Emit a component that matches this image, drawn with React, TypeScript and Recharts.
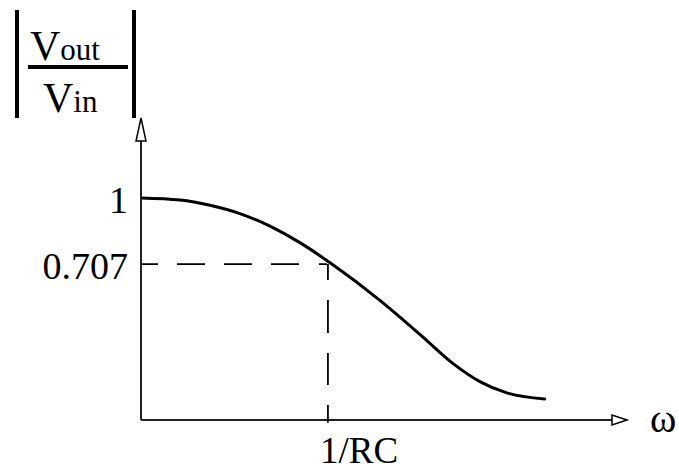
import { LineChart, Line, XAxis, YAxis, ReferenceLine, ReferenceDot } from "recharts";

// normalised frequency (units of 1/RC) and |Vout/Vin|
const omega = [0, 0.209, 0.369, 0.529, 0.69, 0.85, 1.021, 1.278, 1.492, 1.668, 1.813, 1.957, 2.16];
const gain = [1.0, 0.991, 0.968, 0.931, 0.875, 0.802, 0.707, 0.546, 0.395, 0.266, 0.185, 0.135, 0.108];

const yTicks = [0.707, 1];
const yTickLabels = ["0.707", "1"];
const xTicks = [1];
const xTickLabels = ["1/RC"];

const cutoffW = 1;
const cutoffGain = 0.707;
const yMin = 0.0147;
const yMax = 1.342;
const xMax = 2.6;

const data = omega.map((w, i) => ({ w, g: gain[i] }));

const FONT = '"Liberation Serif", "Times New Roman", serif';

const YTick = (props: any) => {
  const { x, y, payload } = props;
  const i = yTicks.indexOf(payload.value);
  return (
    <text x={x} y={y + 15} textAnchor="end" fontFamily={FONT} fontSize={38} fill="#000">
      {yTickLabels[i]}
    </text>
  );
};

const XTick = (props: any) => {
  const { x, y, payload } = props;
  const i = xTicks.indexOf(payload.value);
  return (
    <text x={x - 8} y={y + 40} textAnchor="start" fontFamily={FONT} fontSize={37} fill="#000">
      {xTickLabels[i]}
    </text>
  );
};

const UpArrow = (props: any) => {
  const { cx, cy } = props;
  return (
    <polygon
      points={`${cx},${cy - 3} ${cx - 5},${cy + 20} ${cx + 5},${cy + 20}`}
      fill="#fff"
      stroke="#000"
      strokeWidth={1.5}
    />
  );
};

const RightArrow = (props: any) => {
  const { cx, cy } = props;
  return (
    <g>
      <polygon
        points={`${cx},${cy} ${cx - 15},${cy - 5} ${cx - 15},${cy + 5}`}
        fill="#fff"
        stroke="#000"
        strokeWidth={1.5}
      />
      <text x={cx + 23} y={cy + 12} fontFamily={FONT} fontSize={40} fill="#000">
        ω
      </text>
    </g>
  );
};

function Title() {
  return (
    <svg
      width={150}
      height={125}
      style={{ position: "absolute", left: 0, top: 0 }}
    >
      <rect x={15} y={10} width={4} height={108} fill="#000" />
      <rect x={132} y={10} width={4} height={108} fill="#000" />
      <rect x={28} y={65} width={100} height={4} fill="#000" />
      <text x={30} y={60} fontFamily={FONT} fill="#000">
        <tspan fontSize={42}>V</tspan>
        <tspan fontSize={31}>out</tspan>
      </text>
      <text x={43} y={112} fontFamily={FONT} fill="#000">
        <tspan fontSize={42}>V</tspan>
        <tspan fontSize={31}>in</tspan>
      </text>
    </svg>
  );
}

export default function App() {
  return (
    <div style={{ position: "absolute", left: 0, top: 0, width: 679, height: 471, background: "#fff" }}>
      <LineChart
        width={679}
        height={471}
        data={data}
        margin={{ top: 121, right: 52, bottom: 0, left: 0 }}
      >
        <XAxis
          dataKey="w"
          type="number"
          domain={[0, xMax]}
          ticks={xTicks}
          height={51}
          tickSize={3}
          tickMargin={0}
          tick={<XTick />}
          axisLine={{ stroke: "#222", strokeWidth: 2 }}
          tickLine={{ stroke: "#000", strokeWidth: 1.5 }}
          allowDataOverflow
        />
        <YAxis
          type="number"
          domain={[yMin, yMax]}
          ticks={yTicks}
          width={141}
          tickSize={0}
          tickMargin={13}
          tick={<YTick />}
          axisLine={{ stroke: "#222", strokeWidth: 2 }}
          tickLine={false}
          allowDataOverflow
        />
        <ReferenceLine
          segment={[{ x: 0, y: cutoffGain }, { x: cutoffW, y: cutoffGain }]}
          stroke="#000"
          strokeWidth={1.8}
          strokeDasharray="17 19 28 19 28 19 28 20 8"
        />
        <ReferenceLine
          segment={[{ x: cutoffW, y: cutoffGain }, { x: cutoffW, y: yMin }]}
          stroke="#000"
          strokeWidth={1.8}
          strokeDasharray="16 20 33 20 32 20 15"
        />
        <Line
          type="monotone"
          dataKey="g"
          stroke="#000"
          strokeWidth={3}
          strokeLinecap="round"
          dot={false}
          isAnimationActive={false}
        />
        <ReferenceDot x={0} y={yMax} r={0} shape={<UpArrow />} ifOverflow="visible" />
        <ReferenceDot x={xMax} y={yMin} r={0} shape={<RightArrow />} ifOverflow="visible" />
      </LineChart>
      <Title />
    </div>
  );
}
